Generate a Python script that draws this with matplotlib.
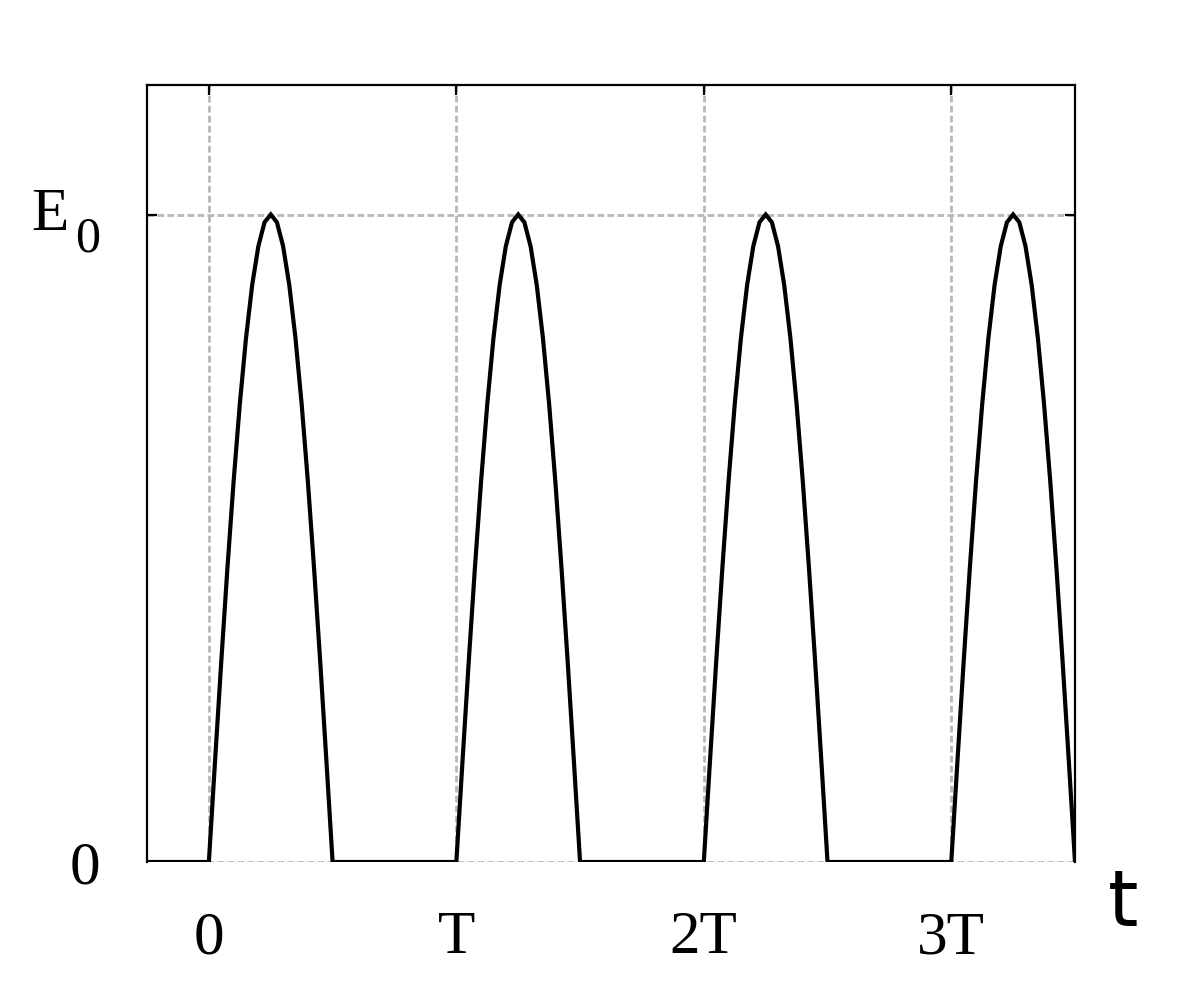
import matplotlib
matplotlib.use("Agg")
import matplotlib.pyplot as plt
import numpy as np

# ---- data (time in units of T, amplitude in units of E0) ----
hump_phase = [0.0, 0.025, 0.05, 0.075, 0.1, 0.125, 0.15, 0.175, 0.2, 0.225,
              0.25, 0.275, 0.3, 0.325, 0.35, 0.375, 0.4, 0.425, 0.45, 0.475, 0.5]
hump_value = [0.0, 0.156, 0.309, 0.454, 0.588, 0.707, 0.809, 0.891, 0.951, 0.988,
              1.0, 0.988, 0.951, 0.891, 0.809, 0.707, 0.588, 0.454, 0.309, 0.156, 0.0]
period_starts = [0, 1, 2, 3]
t_start, t_end = -0.25, 3.5

xtick_pos = [0, 1, 2, 3]
xtick_labels = ["0", "T", "2T", "3T"]
ytick_pos = [0, 1]

# build polyline
xs = [t_start]
ys = [0.0]
for p in period_starts:
    for ph, v in zip(hump_phase, hump_value):
        xs.append(p + ph)
        ys.append(v)
xs.append(t_end)
ys.append(0.0)

W, H = 1201, 1001
fig = plt.figure(figsize=(W / 100, H / 100), dpi=100)
ax = fig.add_axes([147 / W, 1 - 862 / H, (1075 - 147) / W, (862 - 85) / H])

ax.set_xlim(t_start, t_end)
ax.set_ylim(0, 1.2)

ax.plot(xs, ys, color="black", lw=3.0, zorder=3, solid_joinstyle="miter")

# grid
grid_kw = dict(color="#b8b8b8", lw=2.0, ls=(0, (2.4, 1.2)), zorder=1)
for xp in xtick_pos:
    ax.axvline(xp, **grid_kw)
for yp in ytick_pos:
    ax.axhline(yp, **grid_kw)

for s in ["left", "top", "right"]:
    ax.spines[s].set_linewidth(1.6)
    ax.spines[s].set_color("black")
ax.spines["bottom"].set_visible(False)

font = "Liberation Serif"
ax.set_xticks(xtick_pos)
ax.set_xticklabels(xtick_labels, fontfamily=font, fontsize=44)
ax.set_yticks(ytick_pos)
ax.set_yticklabels(["0", ""], fontfamily=font, fontsize=44)
ax.tick_params(axis="x", direction="in", length=7, width=1.6, top=True, bottom=False,
               labelbottom=True, pad=35)
ax.tick_params(axis="y", direction="in", length=7, width=1.6, left=True, right=True, pad=34)
yt = ax.yaxis.get_major_ticks()[0]
yt.tick1line.set_visible(False)
yt.tick2line.set_visible(False)

# E0 label
def px(x, y):
    return x / W, 1 - y / H

fig.text(*px(50, 230), "E", fontfamily=font, fontsize=44, ha="center", va="baseline")
fig.text(*px(88, 252), "0", fontfamily=font, fontsize=36, ha="center", va="baseline")

# axis label t
fig.text(*px(1123, 926), "t", fontfamily="DejaVu Sans", fontsize=56, ha="center", va="baseline")

fig.savefig("out.png", dpi=100, facecolor="white")
